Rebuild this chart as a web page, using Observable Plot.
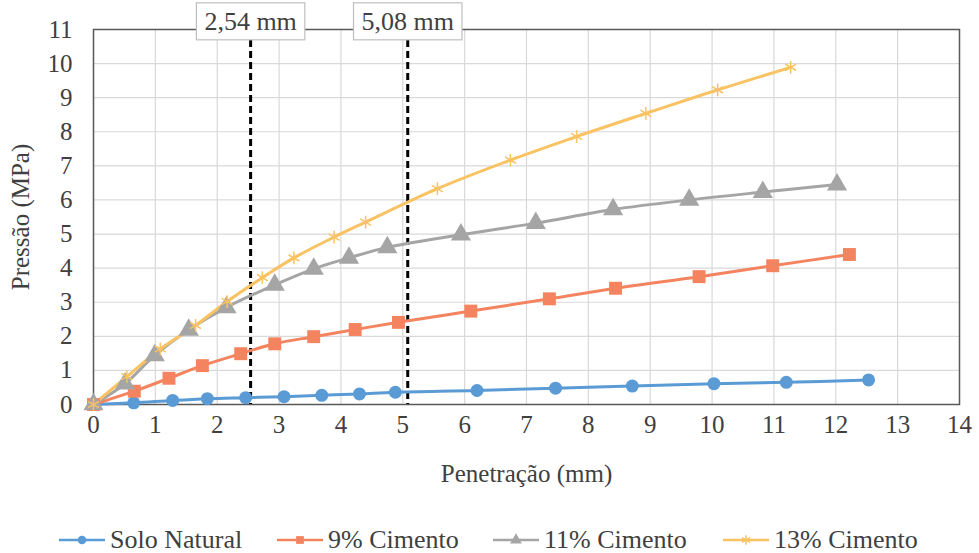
<!DOCTYPE html>
<html><head><meta charset="utf-8">
<script src="https://cdn.jsdelivr.net/npm/d3@7"></script>
<script src="https://cdn.jsdelivr.net/npm/@observablehq/plot@0.6"></script>
<style>
body{margin:0;background:#fff;font-family:"Liberation Serif","Times New Roman","DejaVu Serif",serif;}
#wrap{position:relative;width:979px;height:553px;overflow:hidden;}
#legend{position:absolute;left:0;top:500px;width:979px;height:53px;}
.item{position:absolute;top:25px;height:30px;display:flex;align-items:center;font-size:26px;color:#404040;white-space:nowrap;}
.item svg{margin-right:5px;}
</style></head><body><div id="wrap"><div id="chart"></div><div id="legend"></div></div>
<script>
const seriesNames = ["Solo Natural", "9% Cimento", "11% Cimento", "13% Cimento"];
const seriesColors = ["#5B9BD5", "#F4845F", "#A5A5A5", "#F9C262"];
const seriesSymbols = ["circle", "square", "triangle", "asterisk"];

const soloX = [0, 0.65, 1.28, 1.84, 2.46, 3.08, 3.69, 4.30, 4.88, 6.20, 7.47, 8.71, 10.03, 11.20, 12.53];
const soloY = [0, 0.05, 0.12, 0.17, 0.20, 0.23, 0.27, 0.31, 0.36, 0.41, 0.48, 0.54, 0.61, 0.65, 0.72];

const c9X = [0, 0.66, 1.22, 1.76, 2.38, 2.93, 3.56, 4.23, 4.93, 6.10, 7.37, 8.44, 9.79, 10.98, 12.22];
const c9Y = [0, 0.39, 0.77, 1.14, 1.49, 1.78, 1.99, 2.20, 2.41, 2.74, 3.10, 3.41, 3.75, 4.07, 4.40];

const c11X = [0, 0.51, 0.99, 1.54, 2.15, 2.93, 3.56, 4.13, 4.75, 5.94, 7.15, 8.40, 9.63, 10.82, 12.02];
const c11Y = [0, 0.61, 1.44, 2.19, 2.85, 3.51, 3.98, 4.30, 4.61, 4.98, 5.32, 5.72, 6.00, 6.23, 6.45];

const c13X = [0, 0.54, 1.08, 1.65, 2.16, 2.73, 3.24, 3.89, 4.40, 5.56, 6.74, 7.81, 8.93, 10.09, 11.27];
const c13Y = [0, 0.82, 1.63, 2.32, 3.02, 3.72, 4.30, 4.91, 5.35, 6.33, 7.17, 7.86, 8.54, 9.23, 9.89];

const refX = [2.54, 5.08];
const refLabels = ["2,54 mm", "5,08 mm"];
const xTicks = [0, 1, 2, 3, 4, 5, 6, 7, 8, 9, 10, 11, 12, 13, 14];
const yTicks = [0, 1, 2, 3, 4, 5, 6, 7, 8, 9, 10, 11];

const seriesX = [soloX, c9X, c11X, c13X];
const seriesY = [soloY, c9Y, c11Y, c13Y];
const data = [];
seriesNames.forEach((s, i) => seriesX[i].forEach((x, j) => data.push({s, x, y: seriesY[i][j]})));
const only = (name) => data.filter(d => d.s === name);

const FONT = '"Liberation Serif", "Times New Roman", "DejaVu Serif", serif';

const chart = Plot.plot({
  width: 979, height: 500,
  marginTop: 29, marginBottom: 96, marginLeft: 93, marginRight: 20,
  style: {fontFamily: FONT, fontSize: "25px", color: "#404040", background: "white", overflow: "visible"},
  x: {domain: [0, 14], ticks: xTicks, tickSize: 0, tickPadding: 11, label: "Penetração (mm)", labelAnchor: "center", labelArrow: "none", labelOffset: 77},
  y: {domain: [0, 11], ticks: yTicks, tickSize: 0, tickPadding: 21, label: "Pressão (MPa)", labelAnchor: "center", labelArrow: "none", labelOffset: 82},
  color: {domain: seriesNames, range: seriesColors},
  symbol: {domain: seriesNames, range: seriesSymbols},
  marks: [
    Plot.gridX(xTicks, {stroke: "#D9D9D9", strokeOpacity: 1, strokeWidth: 1.2}),
    Plot.gridY(yTicks, {stroke: "#D9D9D9", strokeOpacity: 1, strokeWidth: 1.2}),
    Plot.frame({stroke: "#595959", strokeWidth: 1.5}),
    Plot.ruleX(refX, {stroke: "black", strokeWidth: 3, strokeDasharray: "7,4"}),
    Plot.line(data, {x: "x", y: "y", z: "s", stroke: "s", strokeWidth: 3, curve: "catmull-rom"}),
    Plot.dot(only("Solo Natural"), {x: "x", y: "y", fill: "s", symbol: "s", r: 6.5}),
    Plot.dot(only("9% Cimento"), {x: "x", y: "y", fill: "s", symbol: "s", r: 7.3}),
    Plot.dot(only("11% Cimento"), {x: "x", y: "y", fill: "s", symbol: "s", r: 7.5}),
    Plot.dot(only("13% Cimento"), {x: "x", y: "y", stroke: "s", symbol: "s", r: 6, strokeWidth: 1.5}),
    Plot.text(refLabels, {x: refX, text: d => d, frameAnchor: "top", dy: -8, lineAnchor: "middle", fontSize: 26, fill: "#404040"})
  ]
});
document.getElementById("chart").appendChild(chart);
d3.select(chart).selectAll("text").style("font-family", FONT);

// boxes behind the annotation labels
d3.select(chart).selectAll('g[aria-label="text"] text').each(function() {
  const b = this.getBBox();
  const t = this.getAttribute("transform");
  const r = document.createElementNS("http://www.w3.org/2000/svg", "rect");
  r.setAttribute("x", b.x - 8); r.setAttribute("y", b.y - 4);
  r.setAttribute("width", b.width + 16); r.setAttribute("height", b.height + 8);
  r.setAttribute("fill", "white"); r.setAttribute("stroke", "#BFBFBF"); r.setAttribute("stroke-width", 1.2);
  if (t) r.setAttribute("transform", t);
  this.parentNode.insertBefore(r, this);
});

// legend
const legendLeft = [59, 277, 493, 723];
const legend = d3.select("#legend");
seriesNames.forEach((s, i) => {
  const item = legend.append("div").attr("class", "item").style("left", legendLeft[i] + "px");
  const svg = item.append("svg").attr("width", 46).attr("height", 20);
  svg.append("line").attr("x1", 0).attr("x2", 46).attr("y1", 10).attr("y2", 10)
    .attr("stroke", seriesColors[i]).attr("stroke-width", 2.5);
  const sym = d3.symbol(s === "Solo Natural" ? d3.symbolCircle : s === "9% Cimento" ? d3.symbolSquare : s === "11% Cimento" ? d3.symbolTriangle : d3.symbolAsterisk, 60);
  const p = svg.append("path").attr("d", sym()).attr("transform", "translate(23,10)");
  if (i === 3) p.attr("fill", "none").attr("stroke", seriesColors[i]).attr("stroke-width", 1.5);
  else p.attr("fill", seriesColors[i]);
  item.append("span").text(s);
});
</script></body></html>
